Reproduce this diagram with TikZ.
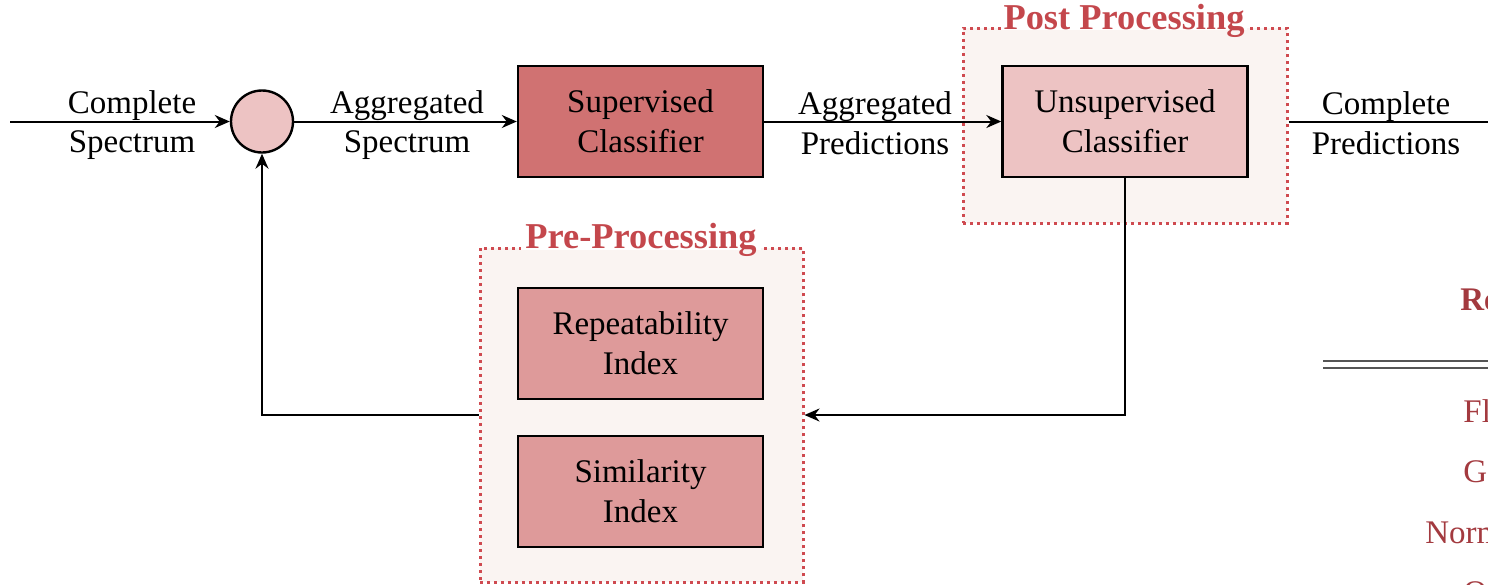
\documentclass[tikz,border=0pt]{standalone}
\usepackage{fontspec}
\setmainfont{Liberation Serif}
\usetikzlibrary{arrows.meta}
\definecolor{supfill}{HTML}{D07272}
\definecolor{lightfill}{HTML}{EDC3C3}
\definecolor{midfill}{HTML}{DE9A9A}
\definecolor{grpfill}{HTML}{FAF4F2}
\definecolor{grpdraw}{HTML}{CF4A50}
\definecolor{grptext}{HTML}{C4474C}
\definecolor{tbltext}{HTML}{A33A3F}
\definecolor{tblrule}{HTML}{555555}
\begin{document}
\begin{tikzpicture}[x=0.5pt,y=-0.5pt,
  every node/.style={font=\fontsize{16.5}{19.8}\selectfont},
  blk/.style={draw=black,line width=1.2pt,minimum width=122.5pt,minimum height=55.5pt,align=center,inner sep=0pt},
  lbl/.style={align=center,inner sep=0pt},
  conn/.style={line width=1pt,-{Stealth[length=7.5pt,width=6.5pt]}},
  plainline/.style={line width=1pt},
  grp/.style={draw=grpdraw,fill=grpfill,line width=1.5pt,dash pattern=on 1.5pt off 2pt},
  grptitle/.style={font=\bfseries\fontsize{18.2}{20}\selectfont,text=grptext,inner sep=0pt,anchor=base},
  tbl/.style={text=tbltext,inner sep=0pt,anchor=base west}
]
\useasboundingbox (0,0) rectangle (1488,584);

% groups
\node[grp,minimum width=162pt,minimum height=97.5pt] (postgrp) at (1125,125.5) {};
\node[grp,minimum width=161.5pt,minimum height=167pt] (pregrp) at (641.5,415) {};
% masks behind the titles (border hidden under the text)
\fill[white] (1001,0) rectangle (1247,30);
\fill[white] (521,218) rectangle (761,250);
\node[grptitle] (posttitle) at (1124,29) {Post Processing};
\node[grptitle] (pretitle) at (641,248) {Pre-Processing};

% blocks
\node[circle,draw=black,line width=1.2pt,fill=lightfill,minimum size=31pt,inner sep=0pt] (sum) at (262,121.5) {};
\node[blk,fill=supfill] (sup) at (640.5,121.5) {Supervised\\Classifier};
\node[blk,fill=lightfill] (unsup) at (1125,121.5) {Unsupervised\\Classifier};
\node[blk,fill=midfill] (rep) at (640.5,343.5) {Repeatability\\Index};
\node[blk,fill=midfill] (sim) at (640.5,491.5) {Similarity\\Index};

\coordinate (in) at (10,121.5);
\coordinate (out) at (1488,121.5);

% connectors
\draw[conn] (in) -- (sum);
\draw[conn] (sum) -- (sup);
\draw[conn] (sup) -- (unsup);
\draw[plainline] (postgrp.east |- unsup.east) -- (out);
\draw[conn] (unsup.south) |- (pregrp.east);
\draw[conn] (pregrp.west) -| (sum.south);

% labels
\node[lbl] (l1) at (132,125) {Complete\\Spectrum};
\node[lbl] (l2) at (407,125) {Aggregated\\Spectrum};
\node[lbl] (l3) at (875,123) {Aggregated\\Predictions};
\node[lbl] (l4) at (1386,123) {Complete\\Predictions};

% table fragment at right edge
\node[tbl,font=\bfseries\fontsize{16.5}{19.5}\selectfont] (t1) at (1460,310) {Re};
\draw[tblrule,line width=1.2pt] (1323,361) -- (1488,361);
\draw[tblrule,line width=1.2pt] (1323,368) -- (1488,368);
\node[tbl] (t2) at (1463,422) {Fl};
\node[tbl] (t3) at (1463,482) {G};
\node[tbl] (t4) at (1425,543) {Norm};
\node[tbl] (t5) at (1463,603) {O};
\end{tikzpicture}
\end{document}
